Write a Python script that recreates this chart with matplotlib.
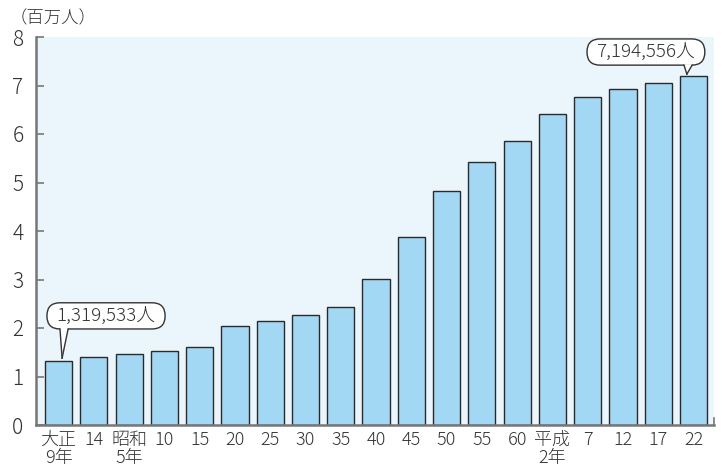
import matplotlib
matplotlib.use("Agg")
import matplotlib.pyplot as plt
from matplotlib.patches import FancyBboxPatch, Polygon

plt.rcParams['font.family'] = ['Noto Sans CJK JP', 'DejaVu Sans']
plt.rcParams['font.weight'] = 'light'

labels = ["大正\n9年", "14", "昭和\n5年", "10", "15", "20", "25", "30", "35", "40",
          "45", "50", "55", "60", "平成\n2年", "7", "12", "17", "22"]
values = [1.319533, 1.394461, 1.459172, 1.528854, 1.608039, 2.047261, 2.146445,
          2.262623, 2.430871, 3.014983, 3.866472, 4.821340, 5.420480, 5.863678,
          6.405319, 6.759311, 6.938006, 7.054243, 7.194556]
yticks = [0, 1, 2, 3, 4, 5, 6, 7, 8]
first_label = "1,319,533人"
last_label = "7,194,556人"

fig = plt.figure(figsize=(7.22, 4.71), dpi=100)
ax = fig.add_axes([36/722, 1-425/471, (714-36)/722, (425-37)/471])
ax.set_facecolor('#EBF5FC')

x = list(range(len(values)))
ax.bar(x, values, width=0.77, color='#A3D8F4', edgecolor='#2a2a2a', linewidth=1.0, zorder=2)

ax.set_xlim(-0.64, 18.58)
ax.set_ylim(0, 8)
ax.set_yticks(yticks)
ax.set_yticklabels([str(t) for t in yticks], fontsize=15, color='#333333')
ax.set_xticks(x)
ax.set_xticklabels(labels, fontsize=13, color='#333333', linespacing=1.0)
ax.tick_params(axis='y', direction='in', length=6, width=1.2, color='#777777', pad=9)
ax.tick_params(axis='x', length=0, pad=4)
for s in ['top', 'right']:
    ax.spines[s].set_visible(False)
for s in ['left', 'bottom']:
    ax.spines[s].set_color('#777777')
    ax.spines[s].set_linewidth(1.8)
ax.axvline(ax.get_xlim()[1], ymin=0, ymax=0.018, color='#777777', lw=1.2, clip_on=False)

fig.text(10/722, 1-18/471, "（百万人）", fontsize=12.5, color='#333333', va='center', ha='left')

def callout(ax, x0, x1, y0, y1, text, base_x, apex):
    box = FancyBboxPatch((x0, y0), x1 - x0, y1 - y0,
                         boxstyle="round,pad=0,rounding_size=0.37",
                         mutation_aspect=35.28/48.5,
                         fc='white', ec='#333333', lw=1.0, zorder=5, clip_on=False)
    ax.add_patch(box)
    ax.text((x0 + x1) / 2, (y0 + y1) / 2, text, ha='center', va='center',
            fontsize=13.5, color='#333333', zorder=7)
    bx0, bx1 = base_x
    tri = Polygon([(bx0, y0 + 0.02), (bx1, y0 + 0.02), apex], closed=True,
                  fc='white', ec='none', zorder=6, clip_on=False)
    ax.add_patch(tri)
    ax.plot([bx0, apex[0]], [y0, apex[1]], color='#333333', lw=1.0, zorder=6, clip_on=False)
    ax.plot([bx1, apex[0]], [y0, apex[1]], color='#333333', lw=1.0, zorder=6, clip_on=False)

callout(ax, -0.33, 3.02, 1.98, 2.52, first_label, (0.04, 0.27), (0.1, values[0] + 0.06))
callout(ax, 14.98, 18.32, 7.42, 7.96, last_label, (17.73, 17.96), (17.81, values[-1] + 0.04))

fig.savefig("out.png", dpi=100)
